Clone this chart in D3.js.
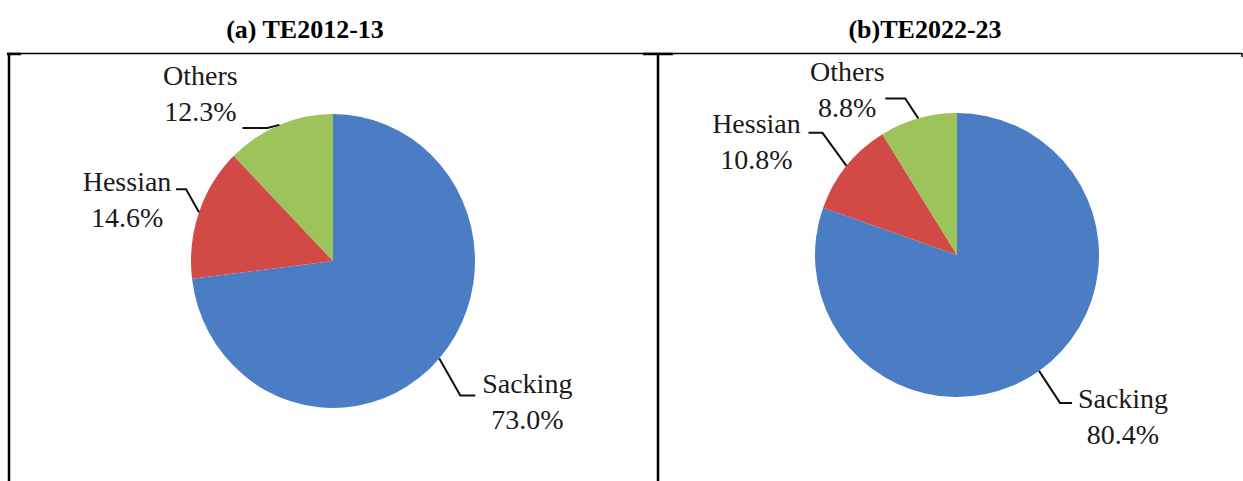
<!DOCTYPE html>
<html>
<head>
<meta charset="utf-8">
<script src="https://cdn.jsdelivr.net/npm/d3@7"></script>
<style>
  body { margin: 0; background: #fff; }
  svg { display: block; }
</style>
</head>
<body>
<div class="chartdiv"></div>
<script>
/*
two pie charts of jute goods shares, TE2012-13 and TE2022-23
*/

// data
var categories = ["Sacking", "Hessian", "Others"];
var share2012 = [73.0, 14.6, 12.3];
var share2023 = [80.4, 10.8, 8.8];
var titles = ["(a) TE2012-13", "(b)TE2022-23"];
var colors = ["#4a7dc3", "#d24a46", "#9cc45a"];

var serif = '"Liberation Serif", "Times New Roman", serif';

// page size
var width = 1243;
var height = 481;

// layout of each panel: pie centre, radius, vertical stretch and label placement
// elbow / end / text offsets are relative to the point where the leader leaves the pie
var panels = [
  {
    values: share2012, title: titles[0], titleX: 305,
    cx: 333, cy: 261, r: 142, sy: 1.035,
    labels: [
      {elbow: [21, 37], end: [36, 37], text: [88, 35]},
      {elbow: [-13, -23], end: [-23, -23], text: [-72, -21]},
      {elbow: [-12, 3], end: [-37, 3], text: [-79, -40]}
    ]
  },
  {
    values: share2023, title: titles[1], titleX: 925,
    cx: 957, cy: 255, r: 142, sy: 1,
    labels: [
      {elbow: [21, 32], end: [33, 32], text: [84, 37]},
      {elbow: [-24, -33], end: [-38, -33], text: [-90, -33]},
      {elbow: [-13, -20], end: [-33, -20], text: [-71, -37]}
    ]
  }
];

// create svg
var svg = d3.select(".chartdiv")
    .append("svg")
    .attr("width", width)
    .attr("height", height);

// table borders
function border(x1, y1, x2, y2, w) {
  svg.append("line")
      .attr("x1", x1).attr("y1", y1)
      .attr("x2", x2).attr("y2", y2)
      .attr("stroke", "#000")
      .attr("stroke-width", w);
}
border(7, 53.5, 1242, 53.5, 1.5);
border(9, 53, 9, height, 2.5);
border(658, 53, 658, height, 2.5);
border(7, 54, 21, 54, 2.5);
border(643, 54, 673, 54, 2.5);
border(1242, 53, 1242, 57, 1.5);

var pie = d3.pie().sort(null).value(function(d) { return d; });

panels.forEach(function(p) {
  var arcs = pie(p.values);
  var arc = d3.arc().innerRadius(0).outerRadius(p.r);
  var edge = d3.arc().innerRadius(p.r).outerRadius(p.r);

  // title above the cell
  svg.append("text")
      .attr("x", p.titleX)
      .attr("y", 38)
      .style("font-family", serif)
      .style("font-weight", "bold")
      .style("font-size", "26px")
      .style("text-anchor", "middle")
      .text(p.title);

  // slices
  svg.append("g")
      .attr("transform", "translate(" + p.cx + "," + p.cy + ") scale(1," + p.sy + ")")
    .selectAll("path")
      .data(arcs)
    .enter().append("path")
      .attr("d", arc)
      .attr("fill", function(d, i) { return colors[i]; });

  // leader lines and labels
  var g = svg.append("g")
      .attr("transform", "translate(" + p.cx + "," + p.cy + ")");

  arcs.forEach(function(d, i) {
    var c = edge.centroid(d);
    var start = [c[0], c[1] * p.sy];
    var lay = p.labels[i];
    var pts = [
      start,
      [start[0] + lay.elbow[0], start[1] + lay.elbow[1]],
      [start[0] + lay.end[0], start[1] + lay.end[1]]
    ];
    g.append("path")
        .attr("d", d3.line()(pts))
        .attr("fill", "none")
        .attr("stroke", "#111")
        .attr("stroke-width", 2);

    var tx = start[0] + lay.text[0];
    var ty = start[1] + lay.text[1];
    var t = g.append("text")
        .style("font-family", serif)
        .style("font-size", "28px")
        .style("fill", "#1a1a1a")
        .style("text-anchor", "middle");
    t.append("tspan")
        .attr("x", tx)
        .attr("y", ty)
        .text(categories[i]);
    t.append("tspan")
        .attr("x", tx)
        .attr("y", ty + 36)
        .text(d3.format(".1f")(d.data) + "%");
  });
});
</script>
</body>
</html>
